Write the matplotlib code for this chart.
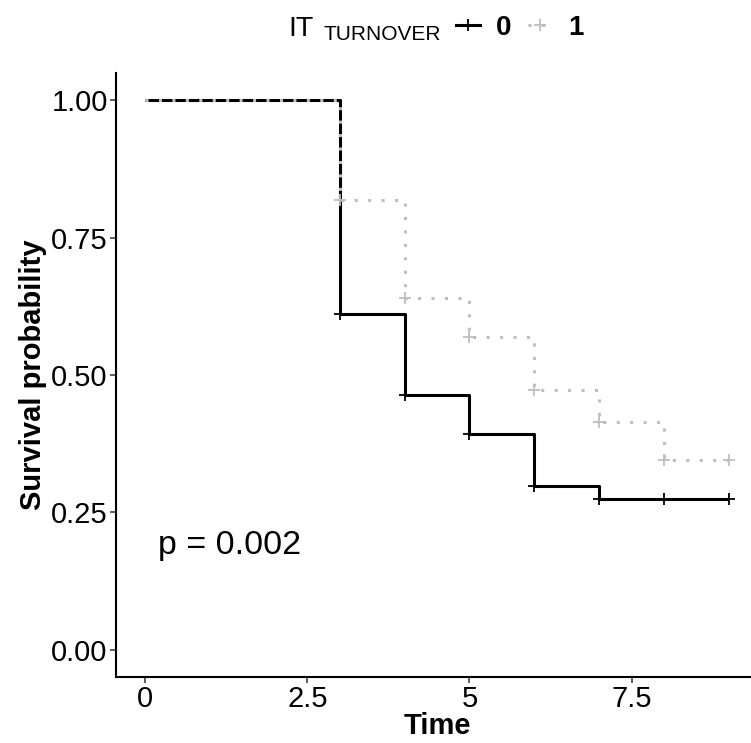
import matplotlib.pyplot as plt
from matplotlib.lines import Line2D

plt.rcParams['font.family'] = ['Liberation Sans', 'DejaVu Sans']

# Kaplan-Meier estimates per group (step after each time point)
time_0 = [0, 3, 4, 5, 6, 7, 9]
surv_0 = [1.0, 0.612, 0.463, 0.392, 0.298, 0.275, 0.275]
time_1 = [0, 3, 4, 5, 6, 7, 8, 9]
surv_1 = [1.0, 0.818, 0.641, 0.570, 0.473, 0.414, 0.345, 0.345]

# censoring times and survival at those times
cens_t0 = [3, 4, 5, 6, 7, 8, 9]
cens_s0 = [0.612, 0.463, 0.392, 0.298, 0.275, 0.275, 0.275]
cens_t1 = [3, 4, 5, 6, 7, 8, 9]
cens_s1 = [0.818, 0.641, 0.570, 0.473, 0.414, 0.345, 0.345]

groups = ['0', '1']
pval = 0.002

W, H = 751, 743
fig = plt.figure(figsize=(W / 100, H / 100), dpi=100)
ax = fig.add_axes([116 / W, 66 / H, 642 / W, 604 / H])

ax.step(time_0, surv_0, where='post', color='black', lw=2.2, solid_capstyle='butt')
ax.plot(cens_t0, cens_s0, ls='none', marker='+', ms=9, mew=1.3, color='black')
ax.step(time_1, surv_1, where='post', color='#BEBEBE', lw=2.2,
        ls=(0, (1, 3.4)), dash_capstyle='butt')
ax.plot(cens_t1, cens_s1, ls='none', marker='+', ms=9, mew=1.3, color='#BEBEBE')

ax.set_xlim(-0.45, 9.45)
ax.set_ylim(-0.05, 1.05)
ax.set_xticks([0, 2.5, 5, 7.5])
ax.set_xticklabels(['0', '2.5', '5', '7.5'])
ax.set_yticks([0, 0.25, 0.5, 0.75, 1.0])
ax.set_yticklabels(['0.00', '0.25', '0.50', '0.75', '1.00'])
ax.tick_params(labelsize=21, length=4, width=1.1, pad=2, colors='#333333', labelcolor='black')
for side in ['top', 'right']:
    ax.spines[side].set_visible(False)
for side in ['left', 'bottom']:
    ax.spines[side].set_linewidth(1.5)

ax.set_xlabel('Time', fontsize=21, fontweight='bold', labelpad=-1)
ax.set_ylabel('Survival probability', fontsize=21, fontweight='bold', labelpad=2.6)

ax.text(0.19, 0.19, 'p = %.3f' % pval, fontsize=24.5, va='center', ha='left')

# legend across the top
fig.text(288 / W, 1 - 29 / H, 'IT', fontsize=20.5, va='center', ha='left')
fig.text(323 / W, 1 - 34 / H, 'TURNOVER', fontsize=15, va='center', ha='left')
handles = [
    Line2D([], [], color='black', lw=2.2, marker='+', ms=9, mew=1.3),
    Line2D([], [], color='#BEBEBE', lw=2.2, ls=(0, (1, 3.4)), marker='+', ms=9, mew=1.3),
]
leg = fig.legend(handles, groups, loc='center left', bbox_to_anchor=(456 / W, 1 - 28 / H),
                 ncol=2, frameon=False, handlelength=0.85, handletextpad=0.6,
                 columnspacing=0.6, borderpad=0, borderaxespad=0,
                 prop={'size': 20, 'weight': 'bold'})

fig.savefig('out.png', dpi=100)
